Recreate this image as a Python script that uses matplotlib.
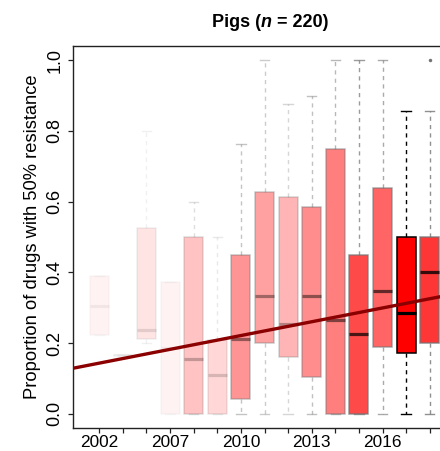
import numpy as np
import matplotlib
matplotlib.use("Agg")
import matplotlib.pyplot as plt

plt.rcParams['font.family'] = ['Liberation Sans', 'DejaVu Sans']

# one box per sampling year (position on the axis)
years = [2002, 2005, 2006, 2007, 2008, 2009, 2010, 2011, 2012,
         2013, 2014, 2015, 2016, 2017, 2018]
shown_years = [2002, 2007, 2010, 2013, 2016]
# isolates per year, used for the shading of the boxes
n_isolates = [2, 2, 4, 2, 9, 6, 16, 14, 11, 17, 19, 27, 23, 38, 30]

q1 = [0.222, 0.167, 0.212, 0.0, 0.0, 0.0, 0.042, 0.2, 0.16,
      0.104, 0.0, 0.0, 0.188, 0.173, 0.2]
med = [0.306, 0.167, 0.238, 0.187, 0.155, 0.11, 0.211, 0.332, 0.255,
       0.332, 0.266, 0.225, 0.348, 0.285, 0.4]
q3 = [0.39, 0.167, 0.526, 0.374, 0.5, 0.21, 0.45, 0.626, 0.612,
      0.584, 0.75, 0.45, 0.638, 0.5, 0.5]
whislo = [0.222, 0.167, 0.2, 0.0, 0.0, 0.0, 0.0, 0.0, 0.0,
          0.0, 0.0, 0.0, 0.0, 0.0, 0.0]
whishi = [0.39, 0.167, 0.8, 0.374, 0.6, 0.5, 0.763, 1.0, 0.876,
          0.9, 1.0, 1.0, 1.0, 0.857, 0.857]
outliers = [[], [], [], [], [], [], [], [], [], [], [], [], [], [], [1.0]]

# linear trend (per year position)
trend_intercept = 0.1304
trend_slope = 0.013

fig = plt.figure(figsize=(4.4, 4.51), dpi=100)
ax = fig.add_axes([73/440, 23/451, 394/440, 382/451])

nmax = max(n_isolates)
for i in range(len(years)):
    a = n_isolates[i] / nmax
    if a >= 1:
        edge = (0, 0, 0, 1)
    else:
        edge = (0.45, 0.45, 0.45, a)
    stats = [dict(med=med[i], q1=q1[i], q3=q3[i], whislo=whislo[i],
                  whishi=whishi[i], fliers=outliers[i])]
    ax.bxp(stats, positions=[i + 1], widths=0.8, capwidths=0.4,
           patch_artist=True, manage_ticks=False,
           boxprops=dict(facecolor=(1, 0, 0, a), edgecolor=edge, linewidth=1.1),
           medianprops=dict(color=(0, 0, 0, a), linewidth=2.3, solid_capstyle='butt'),
           whiskerprops=dict(color=edge, linewidth=1.0, linestyle=(0, (3, 3))),
           capprops=dict(color=edge, linewidth=1.0),
           flierprops=dict(marker='o', markersize=2.5, markerfacecolor=(0.45, 0.45, 0.45),
                           markeredgecolor='none'))

ax.axline((0, trend_intercept), slope=trend_slope, color='#8b0000', linewidth=2.4, zorder=5)

ax.set_xlim(-0.114, 16.58)
ax.set_ylim(-0.04, 1.04)

pos = np.arange(1, len(years) + 1)
ax.set_xticks(pos)
ax.set_xticklabels([str(y) if y in shown_years else '' for y in years], fontsize=12.4)
ax.set_yticks([0.0, 0.2, 0.4, 0.6, 0.8, 1.0])
ax.set_yticklabels(['0.0', '0.2', '0.4', '0.6', '0.8', '1.0'], fontsize=13,
                   rotation=90, va='center')
ax.tick_params(axis='both', direction='out', length=3.8, width=0.9, color='#222222')
ax.tick_params(axis='x', pad=1)
ax.tick_params(axis='y', pad=3)

for s in ['left', 'top', 'bottom', 'right']:
    ax.spines[s].set_linewidth(1.0)
    ax.spines[s].set_color('#222222')

ax.set_ylabel('Proportion of drugs with 50% resistance', fontsize=13.2, labelpad=4)

# title with italic n
t1 = fig.text(212/440, 1 - 27/451, 'Pigs (', fontsize=13, fontweight='bold',
              ha='left', va='baseline')
t2 = fig.text(0, 0, 'n', fontsize=13, fontweight='bold', fontstyle='italic')
t3 = fig.text(0, 0, ' = 220)', fontsize=13, fontweight='bold')
fig.canvas.draw()
r = fig.canvas.get_renderer()
bb1 = t1.get_window_extent(r)
t2.set_position((bb1.x1 / fig.bbox.width, t1.get_position()[1]))
t2.set_va('baseline')
bb2 = t2.get_window_extent(r)
t3.set_position((bb2.x1 / fig.bbox.width, t1.get_position()[1]))
t3.set_va('baseline')

fig.savefig('out.png', dpi=100)
